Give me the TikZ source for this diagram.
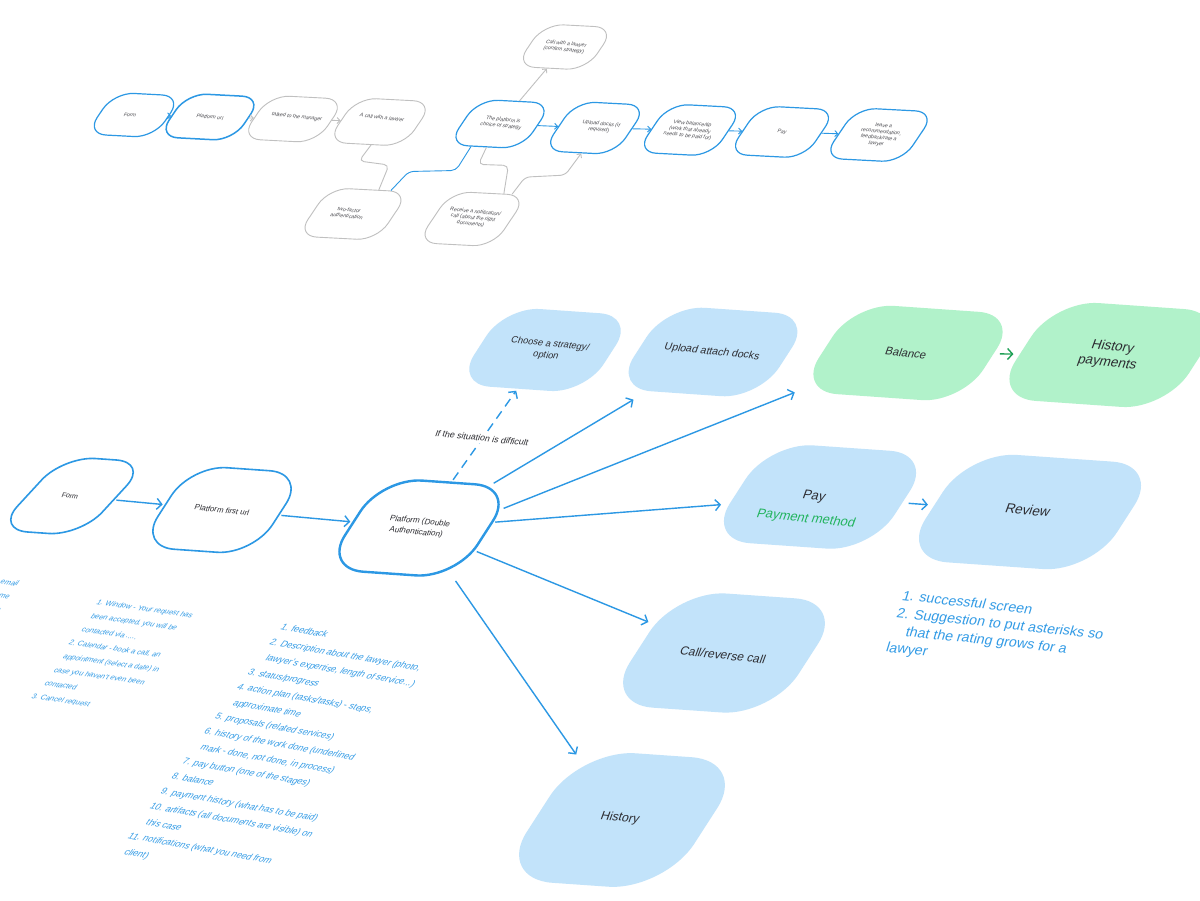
\documentclass[tikz,border=0pt]{standalone}
\usepackage{fontspec}
\setmainfont{Liberation Sans}
\usetikzlibrary{arrows.meta}
\definecolor{lineblue}{RGB}{44,152,228}
\definecolor{fillblue}{RGB}{194,227,250}
\definecolor{fillgreen}{RGB}{177,242,202}
\definecolor{paygreen}{RGB}{35,180,95}
\definecolor{arrowgreen}{RGB}{30,160,85}
\definecolor{grayline}{RGB}{192,192,192}
\definecolor{ink}{RGB}{45,45,50}
\definecolor{listblue}{RGB}{52,156,230}
\begin{document}
\begin{tikzpicture}[x=1pt, y=-1pt, thick]
        \tikzstyle{tblob} = [rectangle, draw=lineblue, line width=1.2pt, fill=white, rounded corners=20pt, rotate=-3, xslant=0.6, minimum width=76pt, minimum height=47pt]
        \tikzstyle{gblob} = [tblob, draw=grayline, line width=0.9pt]
        \tikzstyle{tword} = [rotate=-6, xslant=0.3, align=center, text=ink!85, inner sep=0pt, font=\fontsize{5.2}{6.2}\selectfont]
        \tikzstyle{blob} = [rectangle, fill=fillblue, rounded corners=40pt, rotate=-4, xslant=0.55]
        \tikzstyle{oblob} = [blob, fill=white, draw=lineblue, line width=1.6pt]
        \tikzstyle{word} = [rotate=-6, xslant=0.25, align=center, text=ink, inner sep=0pt]
        \tikzstyle{note} = [rotate=-8, xslant=0.5, align=left, anchor=north west, text=listblue, inner sep=0pt]
        \tikzstyle{flow} = [draw=lineblue, line width=1.4pt, -{Straight Barb[length=5pt, width=11pt]}, shorten >=2pt, shorten <=2pt]
        \tikzstyle{tflow} = [draw=lineblue, line width=0.9pt, -{Straight Barb[length=3pt, width=6pt]}]
        \tikzstyle{gflow} = [tflow, draw=grayline]
        \useasboundingbox (0,0) rectangle (1200,901);
        \fill[white] (0,0) rectangle (1200,901);
        % first draft of the flow
        \node[tblob] (T-form) at (134,115) [minimum width=68pt, minimum height=43pt] {};
        \node[tblob, line width=1.5pt] (T-url) at (210,117) [minimum width=75pt, minimum height=45pt] {};
        \node[gblob] (T-manager) at (293,119) [minimum width=76pt, minimum height=45pt] {};
        \node[gblob] (T-lawyer) at (380,122) [minimum width=77pt, minimum height=46pt] {};
        \node[gblob] (T-two) at (353,214) [minimum width=80pt, minimum height=50pt] {};
        \node[gblob] (T-confirm) at (565,47) [minimum width=71pt, minimum height=44pt] {};
        \node[tblob] (T-platform) at (500,124) [minimum width=74pt, minimum height=47pt] {};
        \node[tblob] (T-upload) at (595,128) [minimum width=72pt, minimum height=51pt] {};
        \node[tblob] (T-view) at (690,130) [minimum width=75pt, minimum height=50pt] {};
        \node[tblob] (T-pay) at (782,132) [minimum width=77pt, minimum height=50pt] {};
        \node[tblob] (T-leave) at (879,135) [minimum width=79pt, minimum height=52pt] {};
        \node[gblob] (T-receive) at (472,219) [minimum width=76pt, minimum height=53pt] {};
        \draw[tflow] (T-form) -- (T-url);
        \draw[gflow] (T-url) -- (T-manager);
        \draw[gflow] (T-manager) -- (T-lawyer);
        \draw[gflow, -, rounded corners=5pt] (T-lawyer.285) -- ++(-12,16) -- ++(30,4) -- (T-two.70);
        \draw[tflow, -, rounded corners=5pt] (T-two.50) -- ++(18,-19) -- ++(47,-1) -- (T-platform.241);
        \draw[gflow] (T-platform) -- (T-confirm);
        \draw[gflow, -, rounded corners=5pt] (T-platform.275) -- ++(-8,17) -- ++(30,1) -- (T-receive.62);
        \draw[gflow, rounded corners=5pt] (T-receive.50) -- ++(13,-17) -- ++(40,-2) -- (T-upload.277);
        \draw[tflow] (T-platform) -- (T-upload);
        \draw[tflow] (T-upload) -- (T-view);
        \draw[tflow] (T-view) -- (T-pay);
        \draw[tflow] (T-pay) -- (T-leave);
        \node[tword] (T-form-l) at (130,115) {Form};
        \node[tword] (T-url-l) at (210,117) {Platform url};
        \node[tword] (T-manager-l) at (297,117) {talked to the manager};
        \node[tword] (T-lawyer-l) at (382,118) {A call with a lawyer};
        \node[tword] (T-two-l) at (348,213) {two-factor\\authentication};
        \node[tword] (T-confirm-l) at (565,47) {Call with a lawyer\\(confirm strategy)};
        \node[tword] (T-platform-l) at (502,123) {The platform is\\choice of strategy};
        \node[tword] (T-upload-l) at (600,127) {Upload docks (if\\required)};
        \node[tword] (T-view-l) at (690,130) {View balance/tip\\(work that already\\needs to be paid for)};
        \node[tword] (T-pay-l) at (782,132) {Pay};
        \node[tword] (T-leave-l) at (880,135) {leave a\\recommendation,\\feedback/rate a\\lawyer};
        \node[tword] (T-receive-l) at (473,218) {Receive a notification/\\call (about the right\\documents)};
        % main flow
        \node[oblob, xslant=0.25, rounded corners=32pt] (B-form) at (72,496) [minimum width=85pt, minimum height=78pt] {};
        \node[oblob, rounded corners=36pt] (B-url) at (222,510) [minimum width=115pt, minimum height=85pt] {};
        \node[oblob, line width=2.4pt] (B-platform) at (419,528) [minimum width=133pt, minimum height=95pt] {};
        \node[blob, rounded corners=35pt] (B-choose) at (545,350) [minimum width=130pt, minimum height=81pt] {};
        \node[blob, rounded corners=38pt] (B-upload) at (713,352) [minimum width=146pt, minimum height=87pt] {};
        \node[blob, fill=fillgreen] (B-balance) at (908,353) [minimum width=165pt, minimum height=92pt] {};
        \node[blob, fill=fillgreen, rounded corners=44pt] (B-histpay) at (1110,355) [minimum width=174pt, minimum height=102pt] {};
        \node[blob, rounded corners=44pt] (B-pay) at (820,497) [minimum width=165pt, minimum height=102pt] {};
        \node[blob, rounded corners=48pt] (B-review) at (1030,512) [minimum width=192pt, minimum height=112pt] {};
        \node[blob, rounded corners=50pt] (B-call) at (724,653) [minimum width=169pt, minimum height=119pt] {};
        \node[blob, rounded corners=56pt] (B-history) at (622,820) [minimum width=168pt, minimum height=135pt] {};
        \draw[flow] (B-form) -- (B-url);
        \draw[flow] (B-url) -- (B-platform);
        \draw[flow, dash pattern=on 9pt off 6pt] (B-platform) -- (B-choose);
        \draw[flow, shorten >=16pt] (B-platform) -- (B-upload);
        \draw[flow] (B-platform.20) -- (B-balance.south west);
        \draw[flow, shorten >=8pt] (B-platform) -- (B-pay);
        \draw[flow, shorten >=6pt] (B-platform) -- (B-call);
        \draw[flow, shorten >=0pt] (B-platform) -- (B-history);
        \draw[flow, shorten >=6pt, shorten <=6pt] (B-pay) -- (B-review);
        \draw[flow, draw=arrowgreen, shorten >=6pt, shorten <=6pt] (B-balance) -- (B-histpay);
        \node[word, font=\fontsize{7}{8.5}\selectfont] (L-form) at (70,496) {Form};
        \node[word, font=\fontsize{7.8}{9}\selectfont] (L-url) at (222,510) {Platform first url};
        \node[word, font=\fontsize{8}{11}\selectfont] (L-platform) at (418,527) {Platform (Double\\Authentication)};
        \node[word, font=\fontsize{9.3}{12}\selectfont] (L-choose) at (548,350) {Choose a strategy/\\option};
        \node[word, font=\fontsize{10.5}{12}\selectfont] (L-upload) at (712,352) {Upload attach docks};
        \node[word, font=\fontsize{11.3}{13}\selectfont] (L-balance) at (906,353) {Balance};
        \node[word, font=\fontsize{13.5}{16}\selectfont] (L-histpay) at (1110,355) {History\\payments};
        \node[word, font=\fontsize{13}{23}\selectfont] (L-pay) at (810,508) {Pay\\\textcolor{paygreen}{Payment method}};
        \node[word, font=\fontsize{13.5}{15}\selectfont] (L-review) at (1028,510) {Review};
        \node[word, font=\fontsize{12}{14}\selectfont] (L-call) at (723,655) {Call/reverse call};
        \node[word, font=\fontsize{12.3}{14}\selectfont] (L-history) at (620,818) {History};
        \node[word, fill=white, inner sep=2pt, font=\fontsize{8.8}{10}\selectfont] (L-situation) at (482,438) {If the situation is difficult};
        % notes under the steps
        \node[note, anchor=north east, align=right, font=\fontsize{7.3}{14}\selectfont] (N-form) at (21,581) {- email\\me\\e};
        \node[note, font=\fontsize{7.3}{14.6}\selectfont] (N-url) at (99,599) {1. Window - Your request has\\\hspace*{0.5em}been accepted, you will be\\\hspace*{0.5em}contacted via .....\\2. Calendar - book a call, an\\\hspace*{0.5em}appointment (select a date) in\\\hspace*{0.5em}case you haven't even been\\\hspace*{0.5em}contacted\\3. Cancel request};
        \node[note, rotate=-2, font=\fontsize{9}{16.3}\selectfont] (N-platform) at (284,623) {1. feedback\\2. Description about the lawyer (photo,\\\hspace*{0.8em}lawyer's expertise, length of service...)\\3. status/progress\\4. action plan (tasks/tasks) - steps,\\\hspace*{0.8em}approximate time\\5. proposals (related services)\\6. history of the work done (underlined\\\hspace*{0.8em}mark - done, not done, in process)\\7. pay button (one of the stages)\\8. balance\\9. payment history (what has to be paid)\\10. artifacts (all documents are visible) on\\\hspace*{0.8em}this case\\11. notifications (what you need from\\\hspace*{0.8em}client)};
        \node[note, rotate=2, xslant=-0.3, font=\fontsize{14}{18}\selectfont] (N-review) at (904,590) {1. successful screen\\2. Suggestion to put asterisks so\\\hspace*{1em}that the rating grows for a\\lawyer};
\end{tikzpicture}
\end{document}
